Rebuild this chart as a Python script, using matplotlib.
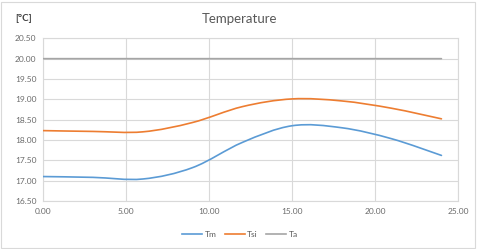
import numpy as np
import matplotlib
matplotlib.use("Agg")
import matplotlib.pyplot as plt
from matplotlib.path import Path
from matplotlib.patches import PathPatch, Rectangle
from matplotlib.lines import Line2D

# data (hours, degC)
hours = [0, 3, 6, 9, 12, 15, 18, 21, 24]
tm = [17.10, 17.08, 17.04, 17.32, 17.94, 18.35, 18.30, 18.03, 17.62]
tsi = [18.23, 18.21, 18.20, 18.43, 18.82, 19.01, 18.96, 18.78, 18.52]
ta = [20.00, 20.00, 20.00, 20.00, 20.00, 20.00, 20.00, 20.00, 20.00]

x_ticks = [0, 5, 10, 15, 20, 25]
y_ticks = [16.5, 17.0, 17.5, 18.0, 18.5, 19.0, 19.5, 20.0, 20.5]

series = [("Tm", tm, "#5B9BD5"), ("Tsi", tsi, "#ED7D31"), ("Ta", ta, "#A5A5A5")]

plt.rcParams["font.family"] = ["Lato", "DejaVu Sans"]
text_color = "#595959"
grid_color = "#D9D9D9"


def smooth_path(xs, ys):
    # Excel-like smoothed line: Catmull-Rom segments as cubic Bezier curves
    pts = np.column_stack([xs, ys]).astype(float)
    verts = [pts[0]]
    codes = [Path.MOVETO]
    n = len(pts)
    for i in range(n - 1):
        p0 = pts[i - 1] if i > 0 else pts[i]
        p1 = pts[i]
        p2 = pts[i + 1]
        p3 = pts[i + 2] if i + 2 < n else pts[i + 1]
        c1 = p1 + (p2 - p0) / 6.0
        c2 = p2 - (p3 - p1) / 6.0
        verts += [c1, c2, p2]
        codes += [Path.CURVE4] * 3
    return Path(verts, codes)


fig = plt.figure(figsize=(4.8, 2.49), dpi=100)
ax = fig.add_axes([0.0902, 0.193, 0.8640, 0.653])

for name, vals, color in series:
    patch = PathPatch(smooth_path(hours, vals), facecolor="none", edgecolor=color,
                      linewidth=1.2, capstyle="round", zorder=3)
    ax.add_patch(patch)

ax.set_xlim(0, 25)
ax.set_ylim(16.5, 20.5)
ax.set_xticks(x_ticks)
ax.set_yticks(y_ticks)
ax.xaxis.set_major_formatter(lambda v, p: f"{v:.2f}")
ax.yaxis.set_major_formatter(lambda v, p: f"{v:.2f}")
ax.tick_params(length=0, labelsize=6, colors="#6b6b6b", pad=5)
ax.grid(True, color=grid_color, linewidth=0.8)
ax.set_axisbelow(True)
for side in ["top", "right", "bottom", "left"]:
    ax.spines[side].set_color(grid_color)
    ax.spines[side].set_linewidth(0.8)

fig.text(0.498, 0.925, "Temperature", ha="center", va="center",
         fontsize=9.5, color=text_color)
fig.text(0.05, 0.925, "[°C]", ha="center", va="center",
         fontsize=7, color="#404040", fontweight="bold")

handles = [Line2D([], [], color=c, linewidth=1.2) for _, _, c in series]
fig.legend(handles, [n for n, _, _ in series], loc="center",
           bbox_to_anchor=(0.5, 0.06), ncol=3, frameon=False, fontsize=6,
           handlelength=2.4, handletextpad=0.3, columnspacing=1.0,
           labelcolor=text_color)

fig.patches.append(Rectangle((1 / 480, 1 / 249), 474 / 480, 246 / 249,
                             transform=fig.transFigure, fill=False,
                             edgecolor=grid_color, linewidth=0.8))

fig.savefig("out.png", dpi=100)
